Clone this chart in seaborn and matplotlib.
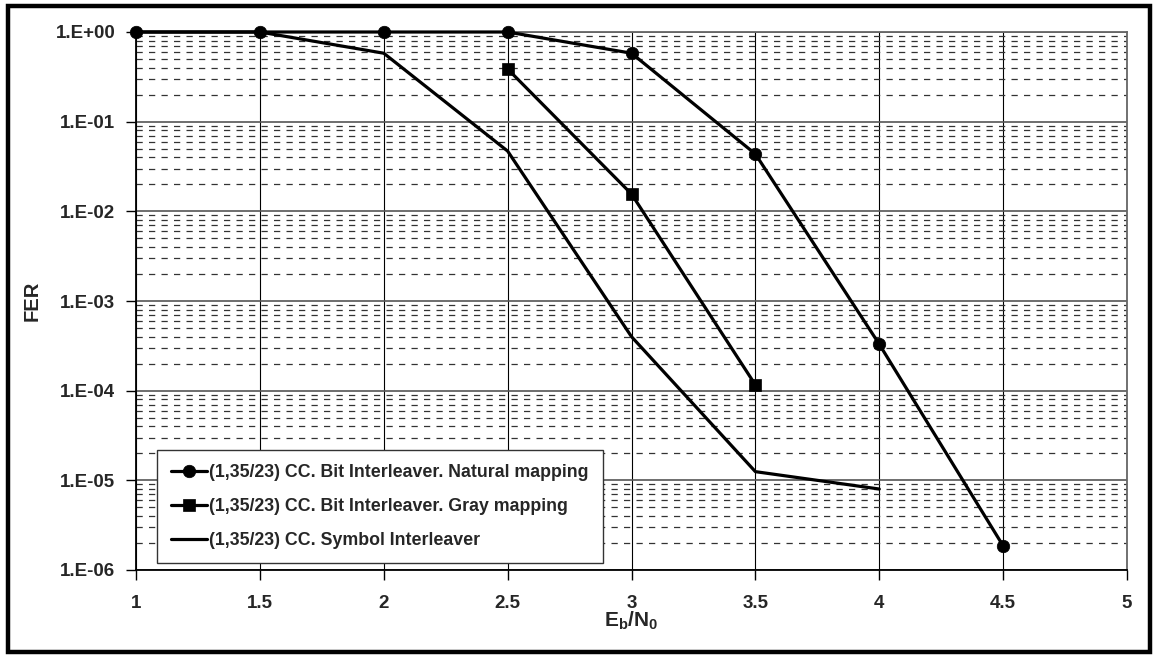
import matplotlib
matplotlib.use('Agg')
import matplotlib.pyplot as plt
import matplotlib.patches as patches
from matplotlib.ticker import FixedLocator, LogLocator, FuncFormatter, NullFormatter
import seaborn as sns
import numpy as np
import pandas as pd

# values
ebn0_natural = [1.0, 1.5, 2.0, 2.5, 3.0, 3.5, 4.0, 4.5]
fer_natural = [1.0, 1.0, 1.0, 1.0, 0.58, 0.0436, 3.3e-4, 1.86e-6]

ebn0_gray = [2.5, 3.0, 3.5]
fer_gray = [0.387, 0.0156, 1.16e-4]

ebn0_symbol = [1.0, 1.5, 2.0, 2.5, 3.0, 3.5, 4.0]
fer_symbol = [1.0, 1.0, 0.58, 0.047, 4.0e-4, 1.25e-5, 8.0e-6]

labels = ['(1,35/23) CC. Bit Interleaver. Natural mapping',
          '(1,35/23) CC. Bit Interleaver. Gray mapping',
          '(1,35/23) CC. Symbol Interleaver']

x_ticks = [1, 1.5, 2, 2.5, 3, 3.5, 4, 4.5, 5]
x_tick_labels = ['1', '1.5', '2', '2.5', '3', '3.5', '4', '4.5', '5']

sns.set_theme(style='white')
plt.rcParams['font.family'] = ['Liberation Sans', 'DejaVu Sans']
plt.rcParams['font.weight'] = 'bold'
plt.rcParams['mathtext.fontset'] = 'custom'
plt.rcParams['mathtext.bf'] = 'Liberation Sans:bold'
plt.rcParams['mathtext.rm'] = 'Liberation Sans:bold'

fig = plt.figure(figsize=(11.54, 6.59), dpi=100)
ax = fig.add_axes([136/1154, 1 - 570/659, (1127-136)/1154, (570-32)/659])

ax.set_yscale('log')
ax.set_xlim(1, 5)
ax.set_ylim(1e-6, 1)

df_nat = pd.DataFrame({'x': ebn0_natural, 'y': fer_natural})
df_gray = pd.DataFrame({'x': ebn0_gray, 'y': fer_gray})
df_sym = pd.DataFrame({'x': ebn0_symbol, 'y': fer_symbol})

sns.lineplot(data=df_nat, x='x', y='y', ax=ax, color='black', lw=2.3,
             marker='o', markersize=9, markeredgecolor='black', markeredgewidth=0.5,
             label=labels[0], clip_on=False, zorder=5)
sns.lineplot(data=df_gray, x='x', y='y', ax=ax, color='black', lw=2.3,
             marker='s', markersize=9, markeredgecolor='black', markeredgewidth=0.5,
             label=labels[1], clip_on=False, zorder=5)
sns.lineplot(data=df_sym, x='x', y='y', ax=ax, color='black', lw=2.3,
             label=labels[2], clip_on=False, zorder=5)

ax.xaxis.set_major_locator(FixedLocator(x_ticks))
ax.set_xticklabels(x_tick_labels)
ax.yaxis.set_major_locator(LogLocator(base=10, numticks=10))
ax.yaxis.set_minor_locator(LogLocator(base=10, subs=np.arange(2, 10), numticks=100))
ax.yaxis.set_major_formatter(FuncFormatter(lambda v, p: '1.E%+03d' % int(round(np.log10(v)))))
ax.yaxis.set_minor_formatter(NullFormatter())

ax.grid(True, which='major', axis='x', color='black', lw=0.8)
ax.grid(True, which='major', axis='y', color='#555555', lw=1.2)
ax.grid(True, which='minor', axis='y', color='#333333', lw=0.9, linestyle=(0, (5, 5)))

ax.tick_params(axis='both', which='major', direction='out', length=7, width=1,
               color='black', labelsize=13.5, bottom=True, left=True)
ax.tick_params(axis='x', which='major', pad=11)
ax.tick_params(axis='y', which='major', pad=8)
ax.tick_params(axis='y', which='minor', length=0)
for lab in ax.get_xticklabels() + ax.get_yticklabels():
    lab.set_fontweight('bold')

for s in ['left', 'bottom']:
    ax.spines[s].set_color('black')
    ax.spines[s].set_linewidth(1.3)
for s in ['top', 'right']:
    ax.spines[s].set_color('#666666')
    ax.spines[s].set_linewidth(1.3)

ax.set_xlabel(r'$\mathbf{E_b/N_0}$', fontsize=15, labelpad=-2)
ax.set_ylabel('FER', fontsize=14.5, fontweight='bold', labelpad=10)

leg = ax.legend(loc='lower left', bbox_to_anchor=(0.021, 0.013), fontsize=12.8,
                frameon=True, fancybox=False, shadow=False, handlelength=2.0,
                handletextpad=0.15, labelspacing=0.95, borderpad=0.8,
                borderaxespad=0)
leg.get_frame().set_edgecolor('#333333')
leg.get_frame().set_linewidth(1.0)
leg.get_frame().set_alpha(1)
for t in leg.get_texts():
    t.set_fontweight('bold')

fig.patches.append(patches.Rectangle((8/1154, 1 - 652/659), (1150-8)/1154, (652-6)/659,
                                     transform=fig.transFigure, fill=False,
                                     edgecolor='black', linewidth=3.2))

fig.savefig('out.png', dpi=100)
